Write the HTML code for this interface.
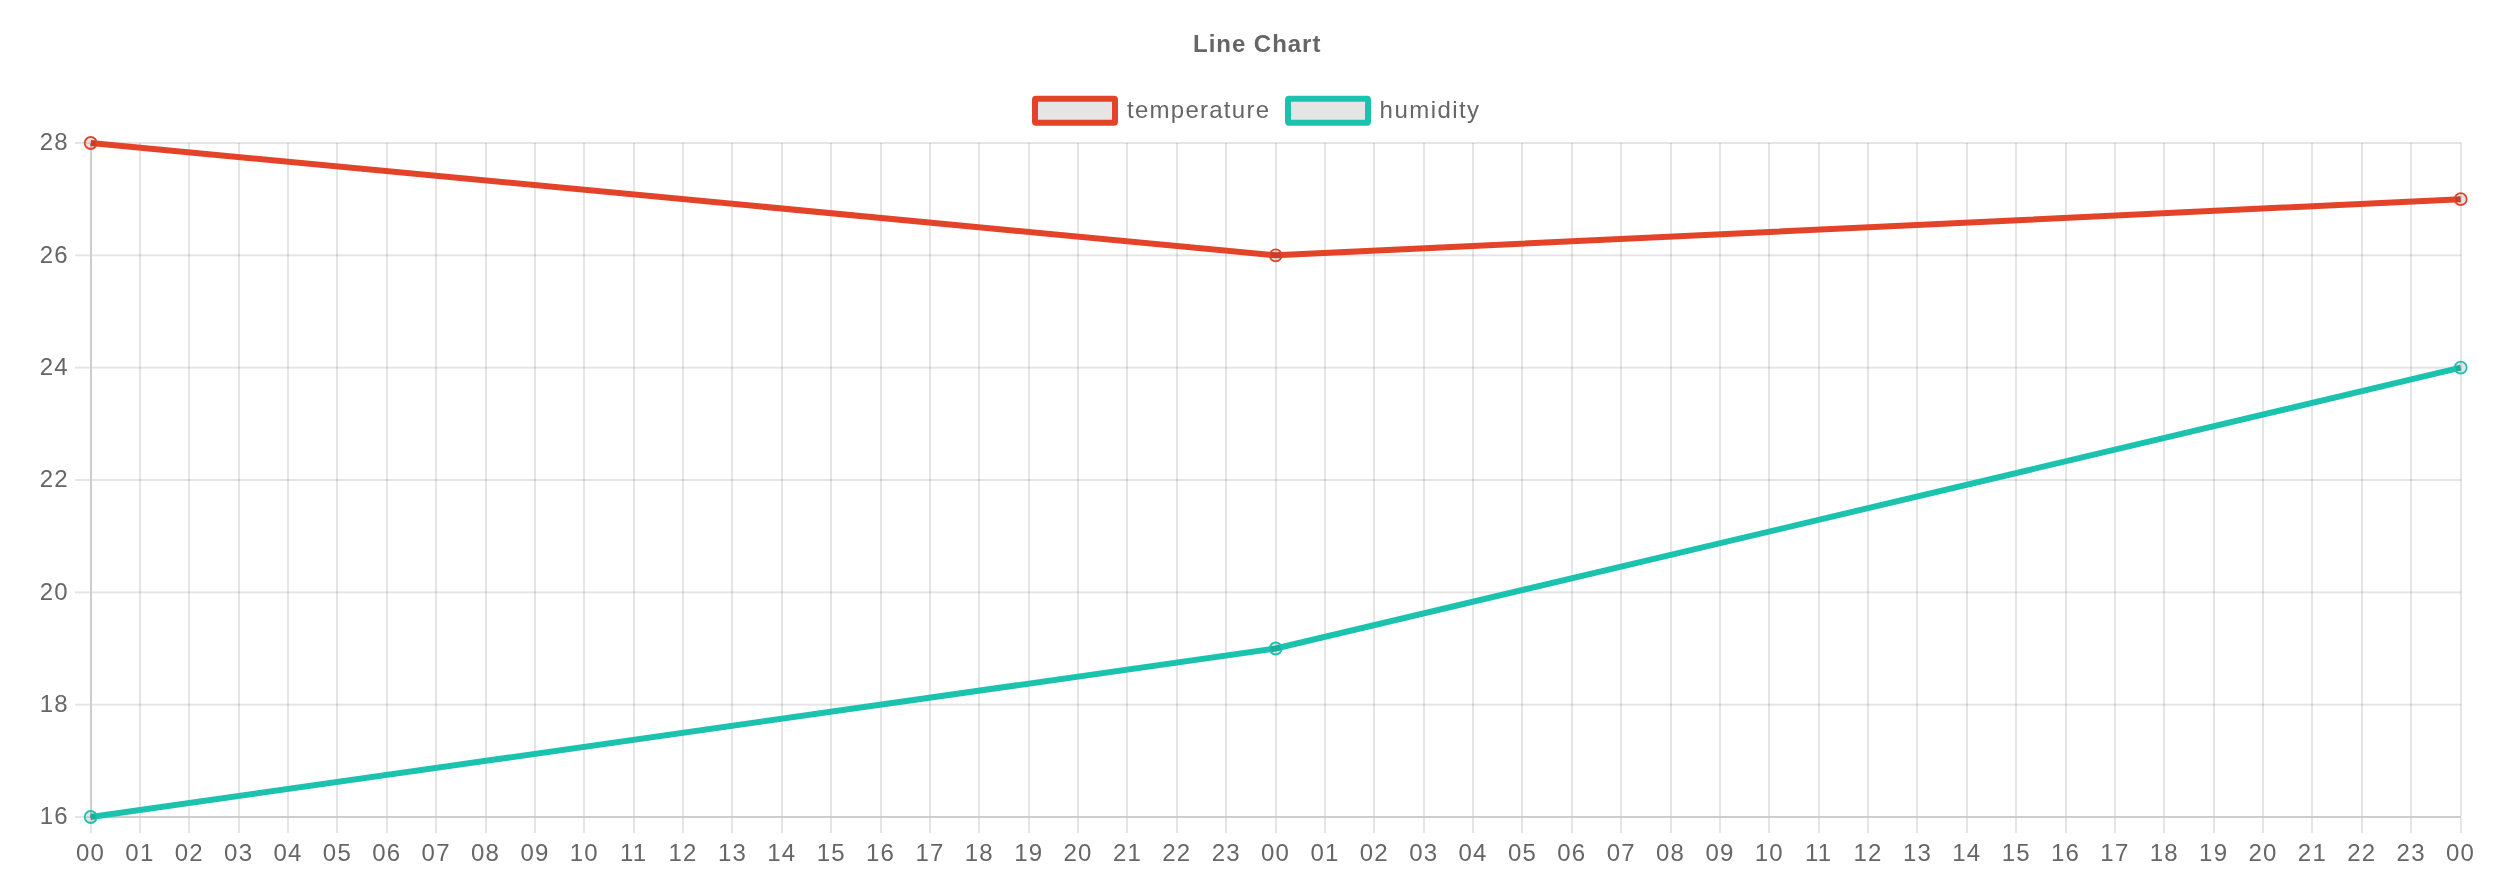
<!DOCTYPE html>
<html><head><meta charset="utf-8"><title>Line Chart</title>
<style>html,body{margin:0;padding:0;background:#fff;}body{width:2506px;height:890px;overflow:hidden;}svg{display:block;will-change:transform;}text{font-family:"Liberation Sans",sans-serif;font-size:24px;fill:#666666;}</style>
</head><body>
<svg width="2506" height="890" viewBox="0 0 2506 890">
<rect x="0" y="0" width="2506" height="890" fill="#ffffff"/>
<g fill="rgba(0,0,0,0.1)" shape-rendering="crispEdges">
<rect x="90" y="143" width="2" height="690"/>
<rect x="139" y="143" width="2" height="673"/>
<rect x="139" y="818" width="2" height="15"/>
<rect x="188" y="143" width="2" height="673"/>
<rect x="188" y="818" width="2" height="15"/>
<rect x="238" y="143" width="2" height="673"/>
<rect x="238" y="818" width="2" height="15"/>
<rect x="287" y="143" width="2" height="673"/>
<rect x="287" y="818" width="2" height="15"/>
<rect x="336" y="143" width="2" height="673"/>
<rect x="336" y="818" width="2" height="15"/>
<rect x="386" y="143" width="2" height="673"/>
<rect x="386" y="818" width="2" height="15"/>
<rect x="435" y="143" width="2" height="673"/>
<rect x="435" y="818" width="2" height="15"/>
<rect x="485" y="143" width="2" height="673"/>
<rect x="485" y="818" width="2" height="15"/>
<rect x="534" y="143" width="2" height="673"/>
<rect x="534" y="818" width="2" height="15"/>
<rect x="583" y="143" width="2" height="673"/>
<rect x="583" y="818" width="2" height="15"/>
<rect x="633" y="143" width="2" height="673"/>
<rect x="633" y="818" width="2" height="15"/>
<rect x="682" y="143" width="2" height="673"/>
<rect x="682" y="818" width="2" height="15"/>
<rect x="731" y="143" width="2" height="673"/>
<rect x="731" y="818" width="2" height="15"/>
<rect x="781" y="143" width="2" height="673"/>
<rect x="781" y="818" width="2" height="15"/>
<rect x="830" y="143" width="2" height="673"/>
<rect x="830" y="818" width="2" height="15"/>
<rect x="880" y="143" width="2" height="673"/>
<rect x="880" y="818" width="2" height="15"/>
<rect x="929" y="143" width="2" height="673"/>
<rect x="929" y="818" width="2" height="15"/>
<rect x="978" y="143" width="2" height="673"/>
<rect x="978" y="818" width="2" height="15"/>
<rect x="1028" y="143" width="2" height="673"/>
<rect x="1028" y="818" width="2" height="15"/>
<rect x="1077" y="143" width="2" height="673"/>
<rect x="1077" y="818" width="2" height="15"/>
<rect x="1126" y="143" width="2" height="673"/>
<rect x="1126" y="818" width="2" height="15"/>
<rect x="1176" y="143" width="2" height="673"/>
<rect x="1176" y="818" width="2" height="15"/>
<rect x="1225" y="143" width="2" height="673"/>
<rect x="1225" y="818" width="2" height="15"/>
<rect x="1275" y="143" width="2" height="673"/>
<rect x="1275" y="818" width="2" height="15"/>
<rect x="1324" y="143" width="2" height="673"/>
<rect x="1324" y="818" width="2" height="15"/>
<rect x="1373" y="143" width="2" height="673"/>
<rect x="1373" y="818" width="2" height="15"/>
<rect x="1423" y="143" width="2" height="673"/>
<rect x="1423" y="818" width="2" height="15"/>
<rect x="1472" y="143" width="2" height="673"/>
<rect x="1472" y="818" width="2" height="15"/>
<rect x="1521" y="143" width="2" height="673"/>
<rect x="1521" y="818" width="2" height="15"/>
<rect x="1571" y="143" width="2" height="673"/>
<rect x="1571" y="818" width="2" height="15"/>
<rect x="1620" y="143" width="2" height="673"/>
<rect x="1620" y="818" width="2" height="15"/>
<rect x="1670" y="143" width="2" height="673"/>
<rect x="1670" y="818" width="2" height="15"/>
<rect x="1719" y="143" width="2" height="673"/>
<rect x="1719" y="818" width="2" height="15"/>
<rect x="1768" y="143" width="2" height="673"/>
<rect x="1768" y="818" width="2" height="15"/>
<rect x="1818" y="143" width="2" height="673"/>
<rect x="1818" y="818" width="2" height="15"/>
<rect x="1867" y="143" width="2" height="673"/>
<rect x="1867" y="818" width="2" height="15"/>
<rect x="1916" y="143" width="2" height="673"/>
<rect x="1916" y="818" width="2" height="15"/>
<rect x="1966" y="143" width="2" height="673"/>
<rect x="1966" y="818" width="2" height="15"/>
<rect x="2015" y="143" width="2" height="673"/>
<rect x="2015" y="818" width="2" height="15"/>
<rect x="2065" y="143" width="2" height="673"/>
<rect x="2065" y="818" width="2" height="15"/>
<rect x="2114" y="143" width="2" height="673"/>
<rect x="2114" y="818" width="2" height="15"/>
<rect x="2163" y="143" width="2" height="673"/>
<rect x="2163" y="818" width="2" height="15"/>
<rect x="2213" y="143" width="2" height="673"/>
<rect x="2213" y="818" width="2" height="15"/>
<rect x="2262" y="143" width="2" height="673"/>
<rect x="2262" y="818" width="2" height="15"/>
<rect x="2311" y="143" width="2" height="673"/>
<rect x="2311" y="818" width="2" height="15"/>
<rect x="2361" y="143" width="2" height="673"/>
<rect x="2361" y="818" width="2" height="15"/>
<rect x="2410" y="143" width="2" height="673"/>
<rect x="2410" y="818" width="2" height="15"/>
<rect x="2460" y="143" width="2" height="673"/>
<rect x="2460" y="818" width="2" height="15"/>
</g>
<g fill="rgba(0,0,0,0.1)">
<rect x="75" y="142.00" width="15" height="2"/>
<rect x="92" y="142.00" width="2369" height="2"/>
<rect x="75" y="254.33" width="15" height="2"/>
<rect x="92" y="254.33" width="2369" height="2"/>
<rect x="75" y="366.67" width="15" height="2"/>
<rect x="92" y="366.67" width="2369" height="2"/>
<rect x="75" y="479.00" width="15" height="2"/>
<rect x="92" y="479.00" width="2369" height="2"/>
<rect x="75" y="591.33" width="15" height="2"/>
<rect x="92" y="591.33" width="2369" height="2"/>
<rect x="75" y="703.67" width="15" height="2"/>
<rect x="92" y="703.67" width="2369" height="2"/>
<rect x="75" y="816.00" width="2386" height="2"/>
<rect x="90" y="143" width="2" height="675"/>
<rect x="90" y="816" width="2371" height="2"/>
</g>
<polyline points="90.70,817.00 1275.70,648.50 2460.70,367.67" fill="none" stroke="#1bc3ae" stroke-width="6" stroke-linejoin="miter" stroke-linecap="butt"/>
<circle cx="90.70" cy="817.00" r="6" fill="rgba(0,0,0,0.1)" stroke="#1bc3ae" stroke-width="1.8"/>
<circle cx="1275.70" cy="648.50" r="6" fill="rgba(0,0,0,0.1)" stroke="#1bc3ae" stroke-width="1.8"/>
<circle cx="2460.70" cy="367.67" r="6" fill="rgba(0,0,0,0.1)" stroke="#1bc3ae" stroke-width="1.8"/>
<polyline points="90.70,143.00 1275.70,255.33 2460.70,199.17" fill="none" stroke="#e24329" stroke-width="6" stroke-linejoin="miter" stroke-linecap="butt"/>
<circle cx="90.70" cy="143.00" r="6" fill="rgba(0,0,0,0.1)" stroke="#e24329" stroke-width="1.8"/>
<circle cx="1275.70" cy="255.33" r="6" fill="rgba(0,0,0,0.1)" stroke="#e24329" stroke-width="1.8"/>
<circle cx="2460.70" cy="199.17" r="6" fill="rgba(0,0,0,0.1)" stroke="#e24329" stroke-width="1.8"/>
<text x="1256.7" y="51.5" text-anchor="middle" font-weight="bold" textLength="127.4" lengthAdjust="spacing">Line Chart</text>
<rect x="1035" y="98.8" width="80" height="24" rx="1" fill="rgba(0,0,0,0.1)" stroke="#e24329" stroke-width="6"/>
<text x="1127" y="117.8" textLength="142" lengthAdjust="spacing">temperature</text>
<rect x="1288" y="98.8" width="80" height="24" rx="1" fill="rgba(0,0,0,0.1)" stroke="#1bc3ae" stroke-width="6"/>
<text x="1379.6" y="117.8" textLength="99.5" lengthAdjust="spacing">humidity</text>
<text x="68.9" y="150.40" text-anchor="end" letter-spacing="1.25">28</text>
<text x="68.9" y="262.73" text-anchor="end" letter-spacing="1.25">26</text>
<text x="68.9" y="375.07" text-anchor="end" letter-spacing="1.25">24</text>
<text x="68.9" y="487.40" text-anchor="end" letter-spacing="1.25">22</text>
<text x="68.9" y="599.73" text-anchor="end" letter-spacing="1.25">20</text>
<text x="68.9" y="712.07" text-anchor="end" letter-spacing="1.25">18</text>
<text x="68.9" y="824.40" text-anchor="end" letter-spacing="1.25">16</text>
<text x="90.60" y="860.5" text-anchor="middle" letter-spacing="1.25">00</text>
<text x="139.97" y="860.5" text-anchor="middle" letter-spacing="1.25">01</text>
<text x="189.35" y="860.5" text-anchor="middle" letter-spacing="1.25">02</text>
<text x="238.72" y="860.5" text-anchor="middle" letter-spacing="1.25">03</text>
<text x="288.10" y="860.5" text-anchor="middle" letter-spacing="1.25">04</text>
<text x="337.47" y="860.5" text-anchor="middle" letter-spacing="1.25">05</text>
<text x="386.85" y="860.5" text-anchor="middle" letter-spacing="1.25">06</text>
<text x="436.22" y="860.5" text-anchor="middle" letter-spacing="1.25">07</text>
<text x="485.60" y="860.5" text-anchor="middle" letter-spacing="1.25">08</text>
<text x="534.98" y="860.5" text-anchor="middle" letter-spacing="1.25">09</text>
<text x="584.35" y="860.5" text-anchor="middle" letter-spacing="1.25">10</text>
<text x="633.73" y="860.5" text-anchor="middle" letter-spacing="1.25">11</text>
<text x="683.10" y="860.5" text-anchor="middle" letter-spacing="1.25">12</text>
<text x="732.48" y="860.5" text-anchor="middle" letter-spacing="1.25">13</text>
<text x="781.85" y="860.5" text-anchor="middle" letter-spacing="1.25">14</text>
<text x="831.23" y="860.5" text-anchor="middle" letter-spacing="1.25">15</text>
<text x="880.60" y="860.5" text-anchor="middle" letter-spacing="1.25">16</text>
<text x="929.98" y="860.5" text-anchor="middle" letter-spacing="1.25">17</text>
<text x="979.35" y="860.5" text-anchor="middle" letter-spacing="1.25">18</text>
<text x="1028.73" y="860.5" text-anchor="middle" letter-spacing="1.25">19</text>
<text x="1078.10" y="860.5" text-anchor="middle" letter-spacing="1.25">20</text>
<text x="1127.48" y="860.5" text-anchor="middle" letter-spacing="1.25">21</text>
<text x="1176.85" y="860.5" text-anchor="middle" letter-spacing="1.25">22</text>
<text x="1226.23" y="860.5" text-anchor="middle" letter-spacing="1.25">23</text>
<text x="1275.60" y="860.5" text-anchor="middle" letter-spacing="1.25">00</text>
<text x="1324.98" y="860.5" text-anchor="middle" letter-spacing="1.25">01</text>
<text x="1374.35" y="860.5" text-anchor="middle" letter-spacing="1.25">02</text>
<text x="1423.73" y="860.5" text-anchor="middle" letter-spacing="1.25">03</text>
<text x="1473.10" y="860.5" text-anchor="middle" letter-spacing="1.25">04</text>
<text x="1522.48" y="860.5" text-anchor="middle" letter-spacing="1.25">05</text>
<text x="1571.85" y="860.5" text-anchor="middle" letter-spacing="1.25">06</text>
<text x="1621.23" y="860.5" text-anchor="middle" letter-spacing="1.25">07</text>
<text x="1670.60" y="860.5" text-anchor="middle" letter-spacing="1.25">08</text>
<text x="1719.98" y="860.5" text-anchor="middle" letter-spacing="1.25">09</text>
<text x="1769.35" y="860.5" text-anchor="middle" letter-spacing="1.25">10</text>
<text x="1818.73" y="860.5" text-anchor="middle" letter-spacing="1.25">11</text>
<text x="1868.10" y="860.5" text-anchor="middle" letter-spacing="1.25">12</text>
<text x="1917.48" y="860.5" text-anchor="middle" letter-spacing="1.25">13</text>
<text x="1966.85" y="860.5" text-anchor="middle" letter-spacing="1.25">14</text>
<text x="2016.23" y="860.5" text-anchor="middle" letter-spacing="1.25">15</text>
<text x="2065.60" y="860.5" text-anchor="middle" letter-spacing="1.25">16</text>
<text x="2114.97" y="860.5" text-anchor="middle" letter-spacing="1.25">17</text>
<text x="2164.35" y="860.5" text-anchor="middle" letter-spacing="1.25">18</text>
<text x="2213.72" y="860.5" text-anchor="middle" letter-spacing="1.25">19</text>
<text x="2263.10" y="860.5" text-anchor="middle" letter-spacing="1.25">20</text>
<text x="2312.47" y="860.5" text-anchor="middle" letter-spacing="1.25">21</text>
<text x="2361.85" y="860.5" text-anchor="middle" letter-spacing="1.25">22</text>
<text x="2411.22" y="860.5" text-anchor="middle" letter-spacing="1.25">23</text>
<text x="2460.60" y="860.5" text-anchor="middle" letter-spacing="1.25">00</text>
</svg>
</body></html>
